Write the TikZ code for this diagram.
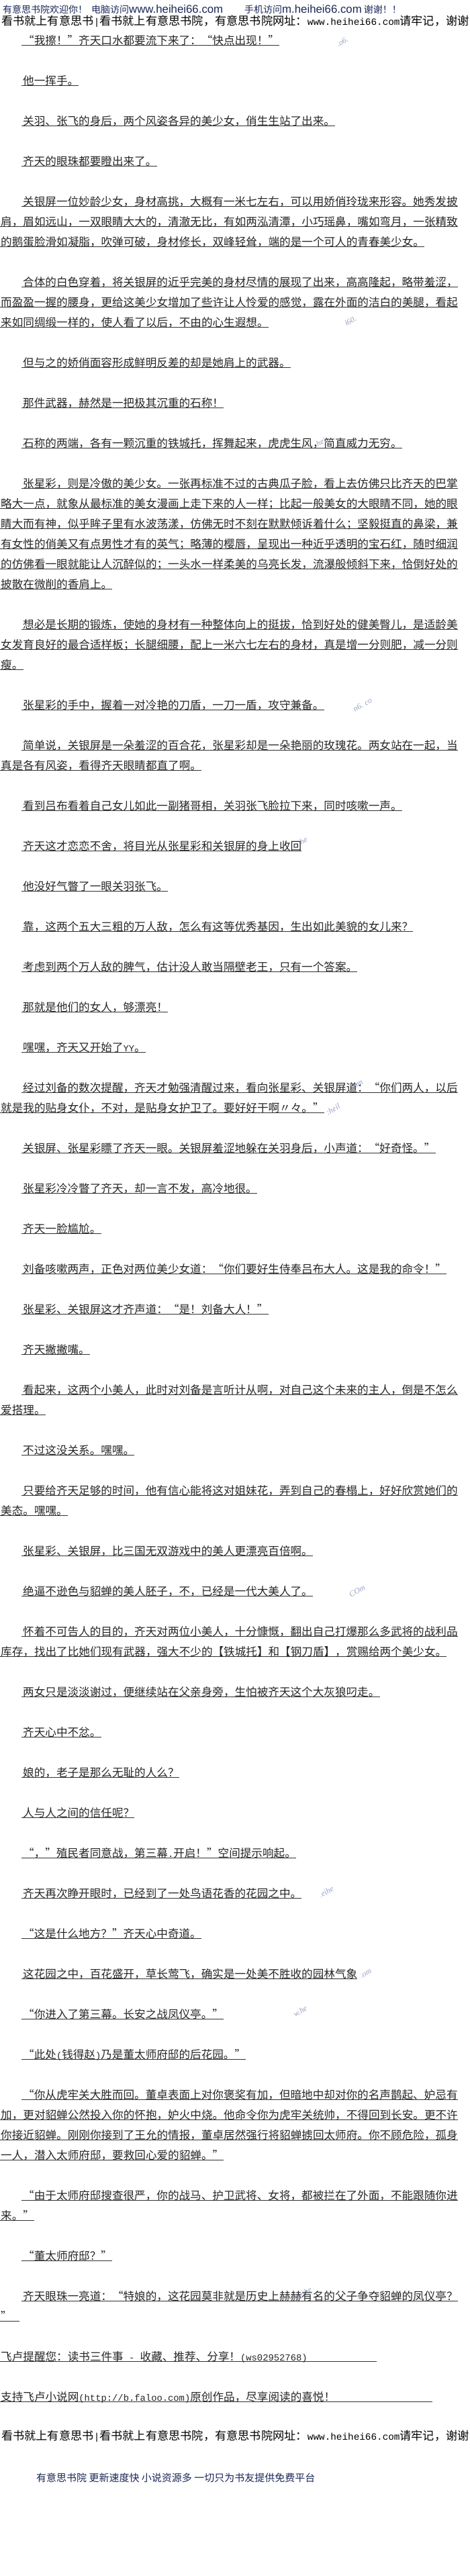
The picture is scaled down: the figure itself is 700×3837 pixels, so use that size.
\documentclass[tikz,border=0pt]{standalone}
\usepackage{fontspec}
\setmainfont{Noto Sans CJK SC}
\newfontfamily\halfw[Scale=0.833]{Liberation Mono}
\newfontfamily\sitelat[Scale=1.2]{Liberation Sans}
\newfontfamily\wmfont{Liberation Serif}
\newcommand\lat[1]{{\halfw #1}}
\newcommand\web[1]{{\sitelat #1}}
\newcommand\bodyfont{\fontsize{16.6}{30}\selectfont}
\definecolor{navy}{RGB}{28,40,88}
\definecolor{wmblue}{RGB}{110,125,175}
\begin{document}
\begin{tikzpicture}
		[x=1pt, y=-1pt,
		 ul/.style={draw=black!80, line width=0.8pt},
		 para/.style={anchor=base west, inner sep=0pt, font=\bodyfont, text=black!85,
		   append after command={([xshift=-2pt,yshift=-1.6pt]\tikzlastnode.base west) edge[ul] ([yshift=-1.6pt]\tikzlastnode.base east)}},
		 banner/.style={anchor=base west, inner sep=0pt, font=\fontsize{17.2}{20}\selectfont},
		 site/.style={anchor=base west, inner sep=0pt, text=navy},
		 wm/.style={inner sep=0pt, font=\wmfont\itshape\fontsize{12}{12}\selectfont, text=wmblue, opacity=.7, rotate=30}]
		\useasboundingbox (0,0) rectangle (700,3837);
		\fill[white] (0,0) rectangle (700,3837);
		
		% header
		\node[site, font=\fontsize{14}{16}\selectfont] (hello) at (4,19) {有意思书院欢迎你！\hspace{6pt}电脑访问\web{www.heihei66.com}};
		\node[site, font=\fontsize{14}{16}\selectfont] (mobile) at (364,19) {手机访问\web{m.heihei66.com} 谢谢！！};
		\node[banner] (top) at (2,37) {看书就上有意思书\lat{|}看书就上有意思书院，有意思书院网址：\lat{www.heihei66.com}请牢记，谢谢};
		
		% chapter text
		\node[para] (p1) at (34,66) {“我擦！”齐天口水都要流下来了：“快点出现！”};
		\node[para] (p2) at (34,126) {他一挥手。};
		\node[para] (p3) at (34,186) {关羽、张飞的身后，两个风姿各异的美少女，俏生生站了出来。};
		\node[para] (p4) at (34,246) {齐天的眼珠都要瞪出来了。};
		\node[para] (p5a) at (34,306) {关银屏一位妙龄少女，身材高挑，大概有一米七左右，可以用娇俏玲珑来形容。她秀发披};
		\node[para] (p5b) at (1,336) {肩，眉如远山，一双眼睛大大的，清澈无比，有如两泓清潭，小巧瑶鼻，嘴如弯月，一张精致};
		\node[para] (p5c) at (1,366) {的鹅蛋脸滑如凝脂，吹弹可破，身材修长，双峰轻耸，端的是一个可人的青春美少女。};
		\node[para] (p6a) at (34,426) {合体的白色穿着，将关银屏的近乎完美的身材尽情的展现了出来，高高隆起，略带羞涩，};
		\node[para] (p6b) at (1,456) {而盈盈一握的腰身，更给这美少女增加了些许让人怜爱的感觉，露在外面的洁白的美腿，看起};
		\node[para] (p6c) at (1,486) {来如同绸缎一样的，使人看了以后，不由的心生遐想。};
		\node[para] (p7) at (34,546) {但与之的娇俏面容形成鲜明反差的却是她肩上的武器。};
		\node[para] (p8) at (34,606) {那件武器，赫然是一把极其沉重的石称！};
		\node[para] (p9) at (34,666) {石称的两端，各有一颗沉重的铁城托，挥舞起来，虎虎生风，简直威力无穷。};
		\node[para] (p10a) at (34,726) {张星彩，则是冷傲的美少女。一张再标准不过的古典瓜子脸，看上去仿佛只比齐天的巴掌};
		\node[para] (p10b) at (1,756) {略大一点，就象从最标准的美女漫画上走下来的人一样；比起一般美女的大眼睛不同，她的眼};
		\node[para] (p10c) at (1,786) {睛大而有神，似乎眸子里有水波荡漾，仿佛无时不刻在默默倾诉着什么；坚毅挺直的鼻梁，兼};
		\node[para] (p10d) at (1,816) {有女性的俏美又有点男性才有的英气；略薄的樱唇，呈现出一种近乎透明的宝石红，随时细润};
		\node[para] (p10e) at (1,846) {的仿佛看一眼就能让人沉醉似的；一头水一样柔美的乌亮长发，流瀑般倾斜下来，恰倒好处的};
		\node[para] (p10f) at (1,876) {披散在微削的香肩上。};
		\node[para] (p11a) at (34,936) {想必是长期的锻炼，使她的身材有一种整体向上的挺拔，恰到好处的健美臀儿，是适龄美};
		\node[para] (p11b) at (1,966) {女发育良好的最合适样板；长腿细腰，配上一米六七左右的身材，真是增一分则肥，减一分则};
		\node[para] (p11c) at (1,996) {瘦。};
		\node[para] (p12) at (34,1056) {张星彩的手中，握着一对冷艳的刀盾，一刀一盾，攻守兼备。};
		\node[para] (p13a) at (34,1116) {简单说，关银屏是一朵羞涩的百合花，张星彩却是一朵艳丽的玫瑰花。两女站在一起，当};
		\node[para] (p13b) at (1,1146) {真是各有风姿，看得齐天眼睛都直了啊。};
		\node[para] (p14) at (34,1206) {看到吕布看着自己女儿如此一副猪哥相，关羽张飞脸拉下来，同时咳嗽一声。};
		\node[para] (p15) at (34,1266) {齐天这才恋恋不舍，将目光从张星彩和关银屏的身上收回};
		\node[para] (p16) at (34,1326) {他没好气瞥了一眼关羽张飞。};
		\node[para] (p17) at (34,1386) {靠，这两个五大三粗的万人敌，怎么有这等优秀基因，生出如此美貌的女儿来？};
		\node[para] (p18) at (34,1446) {考虑到两个万人敌的脾气，估计没人敢当隔壁老王，只有一个答案。};
		\node[para] (p19) at (34,1506) {那就是他们的女人，够漂亮！};
		\node[para] (p20) at (34,1566) {嘿嘿，齐天又开始了\lat{YY}。};
		\node[para] (p21a) at (34,1626) {经过刘备的数次提醒，齐天才勉强清醒过来，看向张星彩、关银屏道：“你们两人，以后};
		\node[para] (p21b) at (1,1656) {就是我的贴身女仆，不对，是贴身女护卫了。要好好干啊〃々。”};
		\node[para] (p22) at (34,1716) {关银屏、张星彩瞟了齐天一眼。关银屏羞涩地躲在关羽身后，小声道：“好奇怪。”};
		\node[para] (p23) at (34,1776) {张星彩冷冷瞥了齐天，却一言不发，高冷地很。};
		\node[para] (p24) at (34,1836) {齐天一脸尴尬。};
		\node[para] (p25) at (34,1896) {刘备咳嗽两声，正色对两位美少女道：“你们要好生侍奉吕布大人。这是我的命令！”};
		\node[para] (p26) at (34,1956) {张星彩、关银屏这才齐声道：“是！刘备大人！”};
		\node[para] (p27) at (34,2016) {齐天撇撇嘴。};
		\node[para] (p28a) at (34,2076) {看起来，这两个小美人，此时对刘备是言听计从啊，对自己这个未来的主人，倒是不怎么};
		\node[para] (p28b) at (1,2106) {爱搭理。};
		\node[para] (p29) at (34,2166) {不过这没关系。嘿嘿。};
		\node[para] (p30a) at (34,2226) {只要给齐天足够的时间，他有信心能将这对姐妹花，弄到自己的春榻上，好好欣赏她们的};
		\node[para] (p30b) at (1,2256) {美态。嘿嘿。};
		\node[para] (p31) at (34,2316) {张星彩、关银屏，比三国无双游戏中的美人更漂亮百倍啊。};
		\node[para] (p32) at (34,2376) {绝逼不逊色与貂蝉的美人胚子，不，已经是一代大美人了。};
		\node[para] (p33a) at (34,2436) {怀着不可告人的目的，齐天对两位小美人，十分慷慨，翻出自己打爆那么多武将的战利品};
		\node[para] (p33b) at (1,2466) {库存，找出了比她们现有武器，强大不少的【铁城托】和【钢刀盾】，赏赐给两个美少女。};
		\node[para] (p34) at (34,2526) {两女只是淡淡谢过，便继续站在父亲身旁，生怕被齐天这个大灰狼叼走。};
		\node[para] (p35) at (34,2586) {齐天心中不忿。};
		\node[para] (p36) at (34,2646) {娘的，老子是那么无耻的人么？};
		\node[para] (p37) at (34,2706) {人与人之间的信任呢？};
		\node[para] (p38) at (34,2766) {“，”殖民者同意战，第三幕\lat{.}开启！”空间提示响起。};
		\node[para] (p39) at (34,2826) {齐天再次睁开眼时，已经到了一处鸟语花香的花园之中。};
		\node[para] (p40) at (34,2886) {“这是什么地方？”齐天心中奇道。};
		\node[para] (p41) at (34,2946) {这花园之中，百花盛开，草长莺飞，确实是一处美不胜收的园林气象};
		\node[para] (p42) at (34,3006) {“你进入了第三幕。长安之战凤仪亭。”};
		\node[para] (p43) at (34,3066) {“此处\lat{(}钱得赵\lat{)}乃是董太师府邸的后花园。”};
		\node[para] (p44a) at (34,3126) {“你从虎牢关大胜而回。董卓表面上对你褒奖有加，但暗地中却对你的名声鹊起、妒忌有};
		\node[para] (p44b) at (1,3156) {加，更对貂蝉公然投入你的怀抱，妒火中烧。他命令你为虎牢关统帅，不得回到长安。更不许};
		\node[para] (p44c) at (1,3186) {你接近貂蝉。刚刚你接到了王允的情报，董卓居然强行将貂蝉掳回太师府。你不顾危险，孤身};
		\node[para] (p44d) at (1,3216) {一人，潜入太师府邸，要救回心爱的貂蝉。”};
		\node[para] (p45a) at (34,3276) {“由于太师府邸搜查很严，你的战马、护卫武将、女将，都被拦在了外面，不能跟随你进};
		\node[para] (p45b) at (1,3306) {来。”};
		\node[para] (p46) at (34,3366) {“董太师府邸？”};
		\node[para] (p47a) at (34,3426) {齐天眼珠一亮道：“特娘的，这花园莫非就是历史上赫赫有名的父子争夺貂蝉的凤仪亭？};
		\node[para] (p47b) at (1,3456) {\makebox[28pt][l]{”}};
		\node[para] (remind) at (1,3516) {\makebox[560pt][l]{飞卢提醒您：读书三件事\lat{\ -\ }收藏、推荐、分享！\lat{(ws02952768)}}};
		\node[para] (support) at (1,3576) {\makebox[643pt][l]{支持飞卢小说网\lat{(http://b.faloo.com)}原创作品，尽享阅读的喜悦！}};
		
		% footer
		\node[banner] (bottom) at (2,3634) {看书就上有意思书\lat{|}看书就上有意思书院，有意思书院网址：\lat{www.heihei66.com}请牢记，谢谢};
		\node[site, font=\fontsize{15}{18}\selectfont] (slogan) at (54,3696) {有意思书院 更新速度快 小说资源多 一切只为书友提供免费平台};
		
		% watermark bits
		\node[wm] (w1) at (510,62) {.o6.};
		\node[wm] (w2) at (522,478) {i60.};
		\node[wm] (w3) at (478,658) {hei};
		\node[wm] (w4) at (540,1050) {n6. co};
		\node[wm] (w5) at (452,1252) {he};
		\node[wm] (w6) at (530,1618) {.com};
		\node[wm] (w7) at (496,1652) {:heil};
		\node[wm] (w8) at (532,2370) {COm};
		\node[wm] (w9) at (486,2818) {.eihe};
		\node[wm] (w10) at (545,2940) {.om};
		\node[wm] (w11) at (447,2996) {w.he};
		\node[wm] (w12) at (452,3416) {heihe};
\end{tikzpicture}
\end{document}
